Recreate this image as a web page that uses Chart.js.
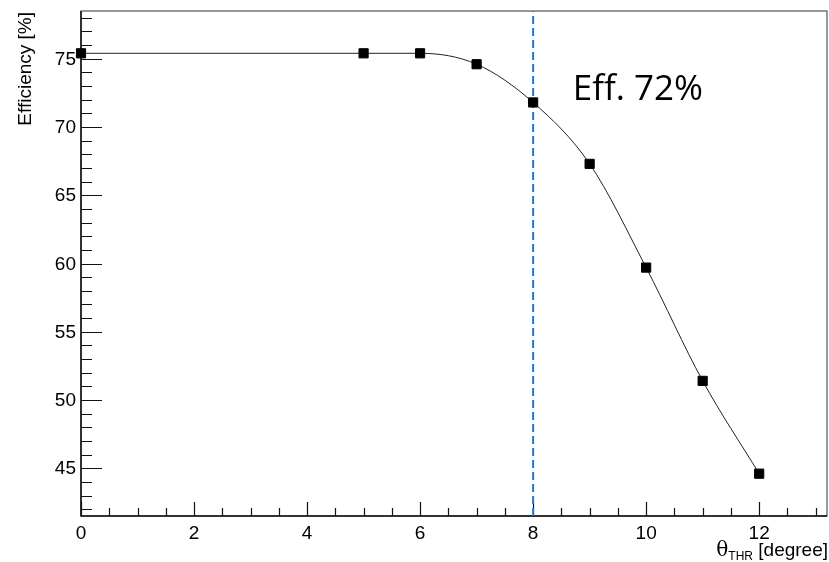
<!DOCTYPE html>
<html>
<head>
<meta charset="utf-8">
<script src="https://cdn.jsdelivr.net/npm/chart.js@4.4.1/dist/chart.umd.min.js"></script>
<style>
  html, body { margin: 0; padding: 0; background: #fff; overflow: hidden; }
</style>
</head>
<body>
<!-- el lienzo es algo más ancho: chart.js reserva margen a la derecha para el último marcador -->
<canvas id="grafica" width="836" height="562"></canvas>
<script>
// Eficiencia vs umbral angular
const umbrales = [0, 5, 6, 7, 8, 9, 10, 11, 12];
const eficiencia = [75.4, 75.4, 75.4, 74.6, 71.8, 67.3, 59.7, 51.4, 44.6];
const ticksX = [0, 2, 4, 6, 8, 10, 12];
const ticksY = [45, 50, 55, 60, 65, 70, 75];
const corteX = 8;
const textoCorte = 'Eff. 72%';
const posTextoCorte = { x: 8.7, y: 72.0 };
const rangoX = [0, 13.2];
const rangoY = [41.5, 78.5];

const fuenteEjes = '19px "Liberation Sans", Arial, sans-serif';

// Marco y marcas hacia dentro, estilo ROOT
const ejesRoot = {
  id: 'ejesRoot',
  beforeDatasetsDraw(chart) {
    const { ctx, chartArea: a, scales: { x, y } } = chart;
    ctx.save();
    ctx.strokeStyle = '#333';
    ctx.lineWidth = 1;
    ctx.strokeRect(a.left, a.top, a.right - a.left, a.bottom - a.top);

    ctx.strokeStyle = '#111';
    ctx.lineWidth = 1.5;
    ctx.beginPath();
    ctx.moveTo(a.left, a.top);
    ctx.lineTo(a.left, a.bottom);
    ctx.lineTo(a.right, a.bottom);
    ctx.stroke();

    // marcas eje x: mayores cada 2, menores cada 0.5
    ctx.lineWidth = 1.2;
    ctx.beginPath();
    for (let v = rangoX[0]; v <= rangoX[1] + 1e-6; v += 0.5) {
      const px = Math.round(x.getPixelForValue(v)) + 0.5;
      const largo = ticksX.includes(v) ? 14 : 8;
      ctx.moveTo(px, a.bottom);
      ctx.lineTo(px, a.bottom - largo);
    }
    // marcas eje y: mayores cada 5, menores cada 1
    for (let v = Math.ceil(rangoY[0]); v <= rangoY[1]; v += 1) {
      const py = Math.round(y.getPixelForValue(v)) + 0.5;
      const largo = ticksY.includes(v) ? 21 : 11;
      ctx.moveTo(a.left, py);
      ctx.lineTo(a.left + largo, py);
    }
    ctx.stroke();
    ctx.restore();
  },
  afterDraw(chart) {
    const { ctx, chartArea: a, scales: { x, y } } = chart;
    ctx.save();
    ctx.fillStyle = '#000';
    ctx.font = fuenteEjes;

    ctx.textAlign = 'right';
    ctx.textBaseline = 'middle';
    ticksY.forEach(v => ctx.fillText(String(v), a.left - 5, y.getPixelForValue(v) + 1));

    ctx.textAlign = 'center';
    ctx.textBaseline = 'alphabetic';
    ticksX.forEach(v => ctx.fillText(String(v), x.getPixelForValue(v), a.bottom + 23));

    // titulo eje y, alineado arriba
    ctx.save();
    ctx.translate(31, a.top + 1);
    ctx.rotate(-Math.PI / 2);
    ctx.textAlign = 'right';
    ctx.fillText('Efficiency [%]', 0, 0);
    ctx.restore();

    // titulo eje x con subindice, alineado a la derecha
    const base = 556;
    const resto = ' [degree]';
    const sub = 'THR';
    ctx.font = fuenteEjes;
    const wResto = ctx.measureText(resto).width;
    ctx.font = '12px "Liberation Sans", Arial, sans-serif';
    const wSub = ctx.measureText(sub).width;
    ctx.font = '20px "DejaVu Serif", serif';
    const wTheta = ctx.measureText('θ').width;
    let xi = 828 - wResto - wSub - wTheta;
    ctx.textAlign = 'left';
    ctx.fillText('θ', xi, base);
    xi += wTheta;
    ctx.font = '12px "Liberation Sans", Arial, sans-serif';
    ctx.fillText(sub, xi, base + 4);
    xi += wSub;
    ctx.font = fuenteEjes;
    ctx.fillText(resto, xi, base);

    // etiqueta del corte
    ctx.font = '35px "Open Sans", "Noto Sans", sans-serif';
    ctx.fillText(textoCorte, x.getPixelForValue(posTextoCorte.x), y.getPixelForValue(posTextoCorte.y));
    ctx.restore();
  }
};

const ctx = document.getElementById('grafica').getContext('2d');
new Chart(ctx, {
  type: 'line',
  data: {
    datasets: [
      {
        label: 'Eficiencia',
        data: umbrales.map((u, i) => ({ x: u, y: eficiencia[i] })),
        borderColor: '#222',
        borderWidth: 1,
        cubicInterpolationMode: 'monotone',
        pointStyle: 'rect',
        pointRadius: 6.5,
        pointBackgroundColor: '#000',
        pointBorderColor: '#000',
        pointBorderWidth: 1,
        clip: false
      },
      {
        label: 'Corte',
        data: [{ x: corteX, y: rangoY[0] }, { x: corteX, y: rangoY[1] }],
        borderColor: '#1f7bc9',
        borderWidth: 2,
        borderDash: [8, 4],
        pointRadius: 0
      }
    ]
  },
  options: {
    responsive: false,
    animation: false,
    events: [],
    layout: { padding: { left: 81, top: 11, right: 9, bottom: 46 } },
    plugins: { legend: { display: false }, tooltip: { enabled: false } },
    scales: {
      x: { type: 'linear', min: rangoX[0], max: rangoX[1], display: false },
      y: { type: 'linear', min: rangoY[0], max: rangoY[1], display: false }
    }
  },
  plugins: [ejesRoot]
});
</script>
</body>
</html>
